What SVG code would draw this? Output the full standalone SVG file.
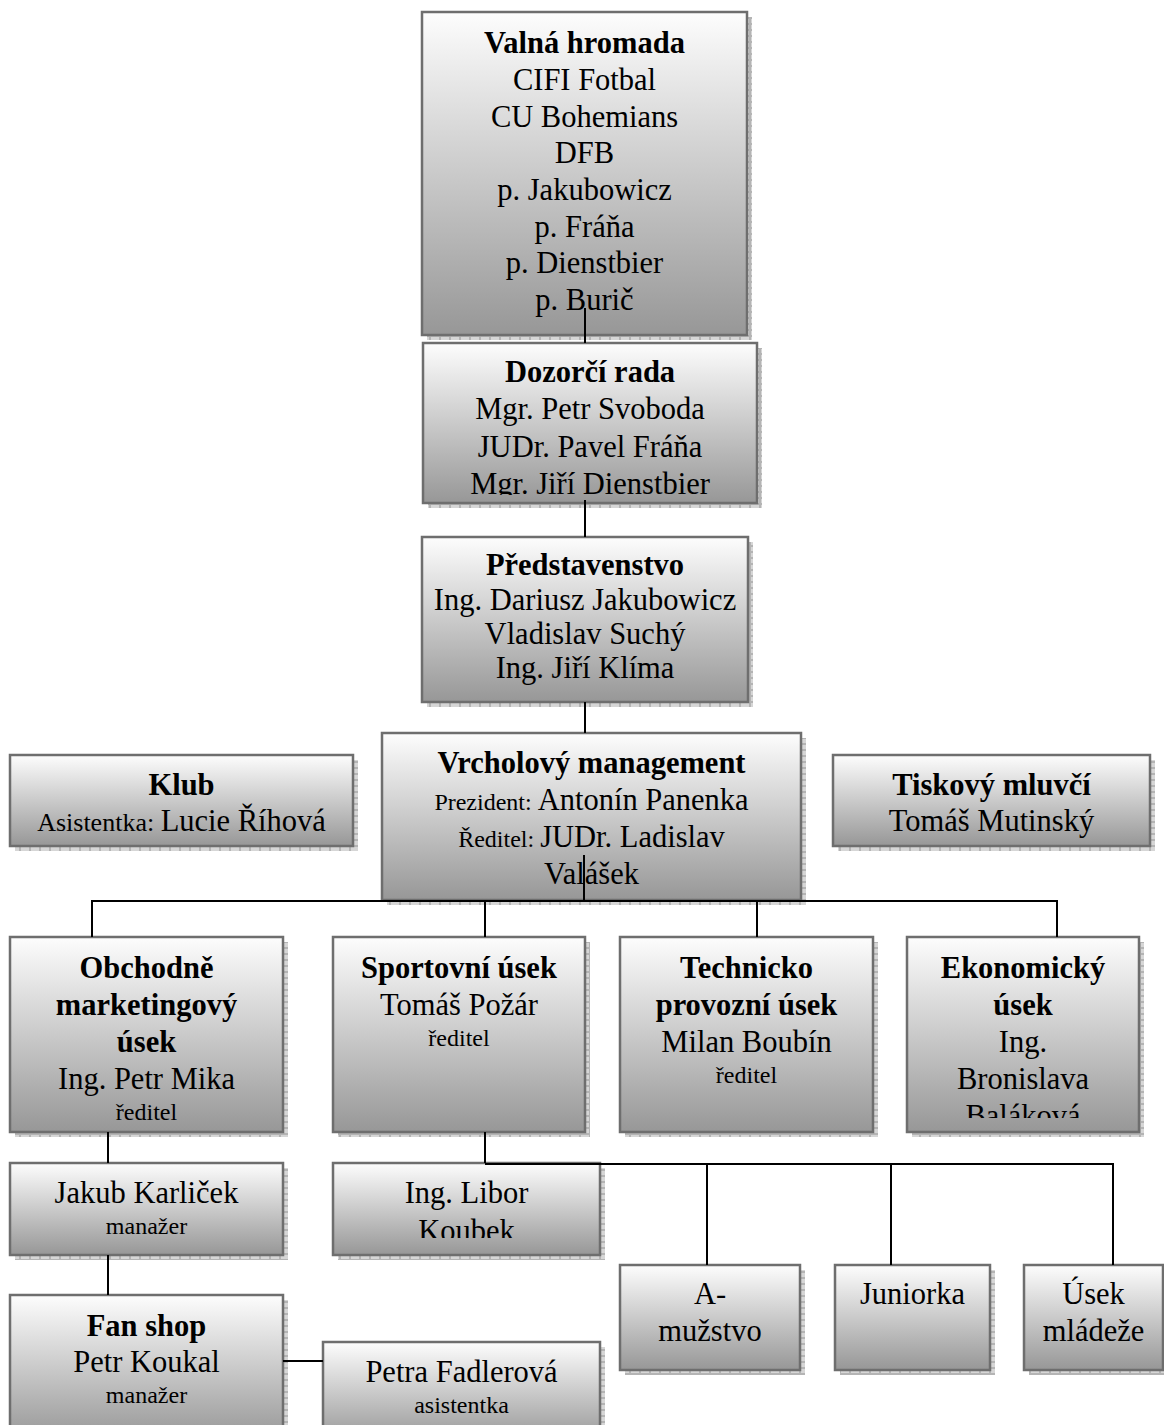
<svg xmlns="http://www.w3.org/2000/svg" width="1164" height="1425" viewBox="0 0 1164 1425">
<defs>
<linearGradient id="grad" x1="0" y1="0" x2="0" y2="1">
<stop offset="0" stop-color="#fdfdfd"/>
<stop offset="1" stop-color="#979797"/>
</linearGradient>
<pattern id="shp" width="10" height="6" patternUnits="userSpaceOnUse">
<rect width="10" height="6" fill="#b4b4b4"/>
<rect x="1" y="1" width="8" height="4" fill="#d6d6d6"/>
</pattern>
<clipPath id="clipDoz"><rect x="420" y="340" width="340" height="155"/></clipPath>
<clipPath id="clipEkon"><rect x="900" y="930" width="245" height="188"/></clipPath>
<clipPath id="clipLib"><rect x="330" y="1160" width="275" height="78"/></clipPath>
</defs>
<style>
.box { fill: url(#grad); stroke: #6e6e6e; stroke-width: 2.5; }
.sh { fill: url(#shp); }
.t { font-family: "Liberation Serif", "Times New Roman", serif; font-size: 30.5px; text-anchor: middle; fill: #000; }
.b { font-weight: bold; }
.s { font-size: 24px; }
.c { stroke: #000; stroke-width: 2; fill: none; }
</style>

<g id="valna">
<rect class="sh" x="427" y="17" width="325" height="323"/>
<rect class="box" x="422" y="12" width="325" height="323"/>
<text class="t b" x="584.5" y="53">Valná hromada</text>
<text class="t" x="584.5" y="90">CIFI Fotbal</text>
<text class="t" x="584.5" y="127">CU Bohemians</text>
<text class="t" x="584.5" y="163">DFB</text>
<text class="t" x="584.5" y="200">p. Jakubowicz</text>
<text class="t" x="584.5" y="237">p. Fráňa</text>
<text class="t" x="584.5" y="273">p. Dienstbier</text>
<text class="t" x="584.5" y="310">p. Burič</text>
</g>

<g id="dozorci">
<rect class="sh" x="428" y="348" width="334" height="160"/>
<rect class="box" x="423" y="343" width="334" height="160"/>
<g clip-path="url(#clipDoz)">
<text class="t b" x="590" y="382">Dozorčí rada</text>
<text class="t" x="590" y="419">Mgr. Petr Svoboda</text>
<text class="t" x="590" y="457">JUDr. Pavel Fráňa</text>
<text class="t" x="590" y="494">Mgr. Jiří Dienstbier</text>
</g>
</g>

<g id="predstavenstvo">
<rect class="sh" x="427" y="542" width="326" height="165"/>
<rect class="box" x="422" y="537" width="326" height="165"/>
<text class="t b" x="585" y="575">Představenstvo</text>
<text class="t" x="585" y="610">Ing. Dariusz Jakubowicz</text>
<text class="t" x="585" y="644">Vladislav Suchý</text>
<text class="t" x="585" y="678">Ing. Jiří Klíma</text>
</g>

<g id="vrcholovy">
<rect class="sh" x="387" y="738" width="419" height="167"/>
<rect class="box" x="382" y="733" width="419" height="167"/>
<text class="t b" x="591.5" y="773">Vrcholový management</text>
<text class="t" x="591.5" y="810"><tspan class="s">Prezident: </tspan>Antonín Panenka</text>
<text class="t" x="591.5" y="847"><tspan class="s">Ředitel: </tspan>JUDr. Ladislav</text>
<text class="t" x="591.5" y="884">Valášek</text>
</g>

<g id="klub">
<rect class="sh" x="15" y="760" width="343" height="91"/>
<rect class="box" x="10" y="755" width="343" height="91"/>
<text class="t b" x="181.5" y="795">Klub</text>
<text class="t" x="181.5" y="831"><tspan font-size="26px">Asistentka: </tspan>Lucie Říhová</text>
</g>

<g id="tiskovy">
<rect class="sh" x="838" y="760" width="317" height="91"/>
<rect class="box" x="833" y="755" width="317" height="91"/>
<text class="t b" x="991.5" y="795">Tiskový mluvčí</text>
<text class="t" x="991.5" y="831">Tomáš Mutinský</text>
</g>

<g id="obchodne">
<rect class="sh" x="15" y="942" width="273" height="195"/>
<rect class="box" x="10" y="937" width="273" height="195"/>
<text class="t b" x="146.5" y="978">Obchodně</text>
<text class="t b" x="146.5" y="1015">marketingový</text>
<text class="t b" x="146.5" y="1052">úsek</text>
<text class="t" x="146.5" y="1089">Ing. Petr Mika</text>
<text class="t s" x="146.5" y="1120">ředitel</text>
</g>

<g id="sportovni">
<rect class="sh" x="338" y="942" width="252" height="195"/>
<rect class="box" x="333" y="937" width="252" height="195"/>
<text class="t b" x="459" y="978">Sportovní úsek</text>
<text class="t" x="459" y="1015">Tomáš Požár</text>
<text class="t s" x="459" y="1046">ředitel</text>
</g>

<g id="technicko">
<rect class="sh" x="625" y="942" width="253" height="195"/>
<rect class="box" x="620" y="937" width="253" height="195"/>
<text class="t b" x="746.5" y="978">Technicko</text>
<text class="t b" x="746.5" y="1015">provozní úsek</text>
<text class="t" x="746.5" y="1052">Milan Boubín</text>
<text class="t s" x="746.5" y="1083">ředitel</text>
</g>

<g id="ekonomicky">
<rect class="sh" x="912" y="942" width="232" height="195"/>
<rect class="box" x="907" y="937" width="232" height="195"/>
<g clip-path="url(#clipEkon)">
<text class="t b" x="1023" y="978">Ekonomický</text>
<text class="t b" x="1023" y="1015">úsek</text>
<text class="t" x="1023" y="1052">Ing.</text>
<text class="t" x="1023" y="1089">Bronislava</text>
<text class="t" x="1023" y="1126">Baláková</text>
</g>
</g>

<g id="jakub">
<rect class="sh" x="15" y="1168" width="273" height="92"/>
<rect class="box" x="10" y="1163" width="273" height="92"/>
<text class="t" x="146.5" y="1203">Jakub Karliček</text>
<text class="t s" x="146.5" y="1234">manažer</text>
</g>

<g id="libor">
<rect class="sh" x="338" y="1168" width="267" height="92"/>
<rect class="box" x="333" y="1163" width="267" height="92"/>
<g clip-path="url(#clipLib)">
<text class="t" x="466.5" y="1203">Ing. Libor</text>
<text class="t" x="466.5" y="1241">Koubek</text>
</g>
</g>

<g id="amuzstvo">
<rect class="sh" x="625" y="1270" width="180" height="105"/>
<rect class="box" x="620" y="1265" width="180" height="105"/>
<text class="t" x="710" y="1304">A-</text>
<text class="t" x="710" y="1341">mužstvo</text>
</g>

<g id="juniorka">
<rect class="sh" x="840" y="1270" width="155" height="105"/>
<rect class="box" x="835" y="1265" width="155" height="105"/>
<text class="t" x="912.5" y="1304">Juniorka</text>
</g>

<g id="usek">
<rect class="sh" x="1029" y="1270" width="139" height="105"/>
<rect class="box" x="1024" y="1265" width="139" height="105"/>
<text class="t" x="1093.5" y="1304">Úsek</text>
<text class="t" x="1093.5" y="1341">mládeže</text>
</g>

<g id="fanshop">
<rect class="sh" x="15" y="1300" width="273" height="145"/>
<rect class="box" x="10" y="1295" width="273" height="145"/>
<text class="t b" x="146.5" y="1336">Fan shop</text>
<text class="t" x="146.5" y="1372">Petr Koukal</text>
<text class="t s" x="146.5" y="1403">manažer</text>
</g>

<g id="petra">
<rect class="sh" x="328" y="1347" width="277" height="100"/>
<rect class="box" x="323" y="1342" width="277" height="100"/>
<text class="t" x="461.5" y="1382">Petra Fadlerová</text>
<text class="t s" x="461.5" y="1413">asistentka</text>
</g>

<g id="connectors">
<path class="c" d="M585 308 V343"/>
<path class="c" d="M585 500 V537"/>
<path class="c" d="M585 702 V733"/>
<path class="c" d="M584 855 V901"/>
<path class="c" d="M92 937 V901 H1057 V937"/>
<path class="c" d="M485 901 V937"/>
<path class="c" d="M757 901 V937"/>
<path class="c" d="M108 1132 V1163"/>
<path class="c" d="M108 1255 V1295"/>
<path class="c" d="M283 1361 H323"/>
<path class="c" d="M485 1132 V1163"/>
<path class="c" d="M485 1164 H1113 V1265"/>
<path class="c" d="M707 1164 V1265"/>
<path class="c" d="M891 1164 V1265"/>
</g>
</svg>
